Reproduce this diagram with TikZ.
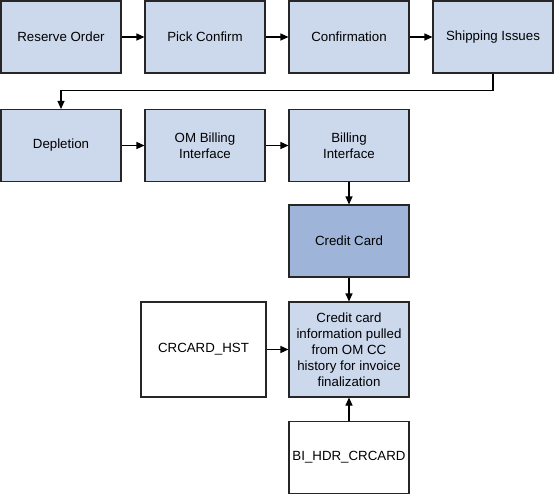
\documentclass[tikz,border=0pt]{standalone}
\usepackage{fontspec}
\setmainfont{Liberation Sans}
\usetikzlibrary{arrows.meta}
\definecolor{boxlight}{RGB}{204,217,236}
\definecolor{boxdark}{RGB}{158,180,216}
\tikzset{
    BX1/.style ={rectangle,minimum width = 120pt, minimum height = 72pt, draw=black!85, line width=1.1pt, fill=boxlight, align=center, font=\fontsize{13.3}{16}\selectfont},
    BX2/.style ={BX1, fill=boxdark},
    BX3/.style ={BX1, fill=white},
    BX4/.style ={BX1, minimum height = 95pt},
    AR/.style ={line width=1.1pt, -{Triangle[length=8pt,width=7pt]}}}
\begin{document}
\begin{tikzpicture}[x=1pt,y=-1pt]
        \useasboundingbox (0,0) rectangle (555,495);
        \node[BX1] (1) at(61,37){Reserve Order};
        \node[BX1] (2) at(205,37){Pick Confirm};
        \node[BX1] (3) at(349,37){Confirmation};
        \node[BX1] (4) at(493,37){Shipping Issues};
        \node[BX1] (5) at(61,145.5){Depletion};
        \node[BX1] (6) at(205,145.5){OM Billing\\Interface};
        \node[BX1] (7) at(349,145.5){Billing\\Interface};
        \node[BX2] (8) at(349,241){Credit Card};
        \node[BX4] (9) at(349,349.5){Credit card\\information pulled\\from OM CC\\history for invoice\\finalization};
        \node[BX3,minimum width=125pt,minimum height=95pt] (10) at(203.5,349.5){CRCARD\_HST};
        \node[BX3] (11) at(349,457.5){BI\_HDR\_CRCARD};
        \draw[AR] (1) --(2);
        \draw[AR] (2) --(3);
        \draw[AR] (3) --(4);
        \draw[AR] (4.south) --++(0,17) -| (5.north);
        \draw[AR] (5) --(6);
        \draw[AR] (6) --(7);
        \draw[AR] (7) --(8);
        \draw[AR] (8) --(9);
        \draw[AR] (10) --(9);
        \draw[AR] (11) --(9);
    \end{tikzpicture}
\end{document}
